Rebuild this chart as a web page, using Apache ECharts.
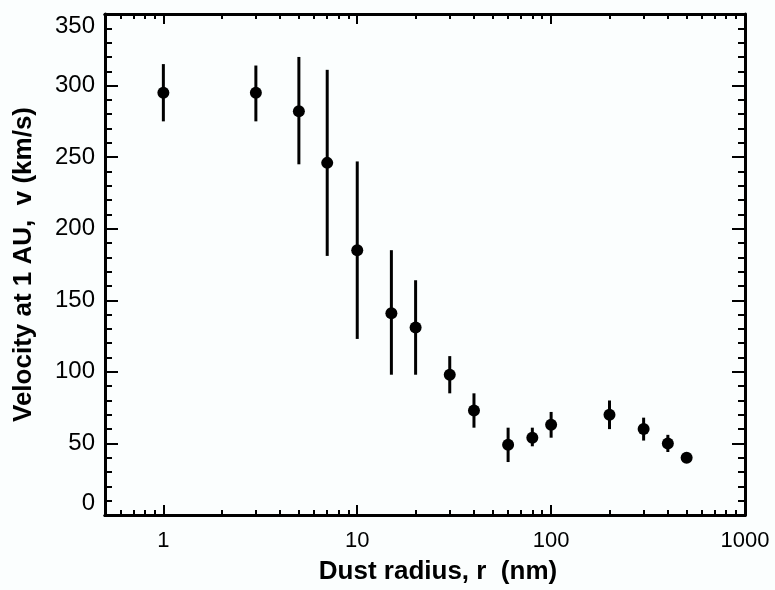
<!DOCTYPE html>
<html>
<head>
<meta charset="utf-8">
<script src="https://cdn.jsdelivr.net/npm/echarts@6/dist/echarts.min.js"></script>
<style>
html,body{margin:0;padding:0;background:#fbfefe;}
#chart{width:775px;height:590px;}
</style>
</head>
<body>
<div id="chart"></div>
<script>
// ---- data ----
var radius   = [1, 3, 5, 7, 10, 15, 20, 30, 40, 60, 80, 100, 200, 300, 400, 500];
var velocity = [295, 295, 282, 246, 185, 141, 131, 98, 73, 49, 54, 63, 70, 60, 50, 40];
var errLow   = [275, 275, 245, 181, 123, 98, 98, 85, 61, 37, 48, 54, 60, 52, 44, 38];
var errHigh  = [315, 314, 320, 311, 247, 185, 164, 111, 85, 61, 61, 72, 80, 68, 56, 42];
var xMajorTicks = [1, 10, 100, 1000];
var xMinorTicks = [0.6, 0.7, 0.8, 0.9, 2, 3, 4, 5, 6, 7, 8, 9, 20, 30, 40, 50, 60, 70, 80, 90, 200, 300, 400, 500, 600, 700, 800, 900];
var xTitle = 'Dust radius, r  (nm)';
var yTitle = 'Velocity at 1 AU,  v (km/s)';

var FONT = '"Liberation Sans", Arial, Helvetica, sans-serif';
var lineStyle = {color: '#000', width: 3};

function xAxisDef(pos, ticks, len, labels, withName) {
  return {
    type: 'log', logBase: 10, min: 0.5, max: 1000, position: pos,
    axisLine: {show: true, onZero: false, lineStyle: lineStyle},
    axisTick: {show: true, inside: true, length: len, customValues: ticks, lineStyle: {color: '#000', width: 2}},
    minorTick: {show: false},
    splitLine: {show: false},
    axisLabel: labels ? {show: true, customValues: xMajorTicks, color: '#000', fontSize: 22, fontFamily: FONT, margin: 15,
      formatter: function (v) { return String(v); }} : {show: false},
    name: withName ? xTitle : '',
    nameLocation: 'middle', nameGap: 44,
    nameTextStyle: {color: '#000', fontSize: 26, fontWeight: 'bold', fontFamily: FONT, padding: [0, 0, 0, 26]}
  };
}
function yAxisDef(pos, labels) {
  return {
    type: 'value', min: 0, max: 350, interval: 50, position: pos,
    axisLine: {show: true, onZero: false, lineStyle: lineStyle},
    axisTick: {show: true, inside: true, length: 13, lineStyle: {color: '#000', width: 2}},
    minorTick: {show: true, splitNumber: 5, length: 7, lineStyle: {color: '#000', width: 2}},
    splitLine: {show: false},
    axisLabel: labels ? {show: true, color: '#000', fontSize: 24, fontFamily: FONT, margin: 10,
      verticalAlignMinLabel: 'bottom', verticalAlignMaxLabel: 'top'} : {show: false},
    name: labels ? yTitle : '',
    nameLocation: 'middle', nameGap: 68,
    nameTextStyle: {color: '#000', fontSize: 26, fontWeight: 'bold', fontFamily: FONT}
  };
}

var chart = echarts.init(document.getElementById('chart'), null, {renderer: 'canvas'});
chart.setOption({
  backgroundColor: '#fbfefe',
  animation: false,
  grid: {left: 105, right: 30, top: 14, bottom: 74, containLabel: false},
  xAxis: [
    xAxisDef('bottom', xMajorTicks, 10, true, true),
    xAxisDef('bottom', xMinorTicks, 5, false, false),
    xAxisDef('top', xMajorTicks, 10, false, false),
    xAxisDef('top', xMinorTicks, 5, false, false)
  ],
  yAxis: [yAxisDef('left', true), yAxisDef('right', false)],
  series: [
    {
      type: 'custom',
      xAxisIndex: 0, yAxisIndex: 0,
      data: radius.map(function (r, i) { return [r, errLow[i], errHigh[i]]; }),
      renderItem: function (params, api) {
        var p1 = api.coord([api.value(0), api.value(1)]);
        var p2 = api.coord([api.value(0), api.value(2)]);
        return {type: 'line', shape: {x1: p1[0], y1: p1[1], x2: p2[0], y2: p2[1]},
          style: {stroke: '#000', lineWidth: 3}};
      },
      z: 2
    },
    {
      type: 'scatter',
      xAxisIndex: 0, yAxisIndex: 0,
      data: radius.map(function (r, i) { return [r, velocity[i]]; }),
      symbol: 'circle', symbolSize: 12,
      itemStyle: {color: '#000', opacity: 1},
      z: 3
    }
  ]
});
</script>
</body>
</html>
